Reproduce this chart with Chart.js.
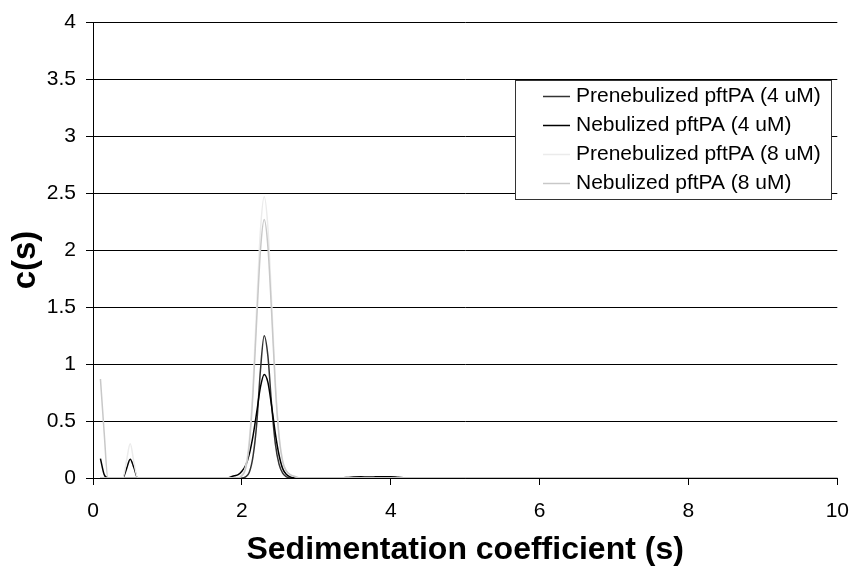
<!DOCTYPE html>
<html><head><meta charset="utf-8">
<script src="https://cdn.jsdelivr.net/npm/chart.js@4.4.1/dist/chart.umd.min.js"></script>
<style>html,body{margin:0;padding:0;background:#fff}#wrap{width:863px;height:569px;position:relative}</style>
</head><body><div id="wrap"><canvas id="c" width="863" height="569"></canvas></div>
<script>
// sedimentation coefficient grid (s)
const sValues = [0.1,0.15,0.2,0.3,0.4,0.45,0.5,0.55,0.6,0.7,
  1.0,1.5,1.8,1.85,1.9,1.95,
  2.0,2.05,2.1,2.15,2.2,2.25,2.3,2.35,2.4,2.45,2.5,2.55,2.6,2.65,2.7,2.75,2.8,
  3.0,3.3,3.4,3.5,3.6,3.7,3.8,3.9,4.0,4.1,4.2,
  4.5,5,6,7,8,9,10];
const preneb4 = [0,0,0,0,0,0,0,0,0,0,
  0,0,0,0,0,0,
  0,0.01,0.05,0.19,0.48,0.95,1.25,1.07,0.64,0.3,0.12,0.04,0.01,0,0,0,0,
  0,0,0,0,0,0,0,0,0,0,0,
  0,0,0,0,0,0,0];
const neb4 = [0.17,0.03,0,0,0,0.08,0.165,0.09,0,0,
  0,0,0,0.01,0.02,0.03,
  0.06,0.11,0.21,0.37,0.58,0.8,0.91,0.84,0.63,0.39,0.2,0.08,0.03,0.01,0,0,0,
  0,0,0.004,0.008,0.01,0.008,0.01,0.012,0.012,0.006,0,
  0,0,0,0,0,0,0];
const preneb8 = [0,0,0,0,0,0.15,0.3,0.14,0,0,
  0,0,0,0,0,0,
  0.03,0.1,0.34,0.82,1.52,2.18,2.47,2.2,1.55,0.85,0.38,0.15,0.06,0.03,0.015,0.005,0,
  0,0,0,0,0,0,0,0,0,0,0,
  0,0,0,0,0,0,0];
const neb8 = [0.87,0.4,0,0,0,0,0,0,0,0,
  0,0,0,0,0,0,
  0.02,0.08,0.3,0.75,1.4,2.0,2.27,2.03,1.45,0.8,0.36,0.14,0.06,0.03,0.015,0.005,0,
  0,0,0,0,0,0,0,0,0,0,0,
  0,0,0,0,0,0,0];
const seriesNames = ['Prenebulized pftPA (4 uM)','Nebulized pftPA (4 uM)','Prenebulized pftPA (8 uM)','Nebulized pftPA (8 uM)'];
const xTitle = 'Sedimentation coefficient (s)';
const yTitle = 'c(s)';

const FONT = '"Liberation Sans", Arial, sans-serif';
const colors = ['#333333','#000000','#ebebeb','#c8c8c8'];
const allSeries = [preneb4, neb4, preneb8, neb8];

const datasets = allSeries.map((ys, i) => ({
  label: seriesNames[i],
  data: sValues.map((x, j) => ({x: x, y: ys[j]})),
  borderColor: colors[i],
  backgroundColor: colors[i],
  borderWidth: 1.5,
  pointRadius: 0,
  fill: false,
  cubicInterpolationMode: 'monotone',
  order: 4 - i
}));

const extras = {
  id: 'extras',
  afterDraw(chart) {
    const ctx = chart.ctx;
    ctx.save();
    // legend box
    const bx = 515.5, by = 80.5, bw = 316, bh = 119;
    ctx.fillStyle = '#fff';
    ctx.fillRect(bx, by, bw, bh);
    ctx.strokeStyle = '#333';
    ctx.lineWidth = 1;
    ctx.strokeRect(bx, by, bw, bh);
    ctx.font = '21px ' + FONT;
    ctx.textBaseline = 'middle';
    ctx.textAlign = 'left';
    seriesNames.forEach((name, i) => {
      const y = 96.5 + i * 29;
      ctx.strokeStyle = colors[i];
      ctx.lineWidth = 1.5;
      ctx.beginPath();
      ctx.moveTo(543, y);
      ctx.lineTo(570, y);
      ctx.stroke();
      ctx.fillStyle = '#000';
      ctx.fillText(name, 576, y);
    });
    // y axis title
    ctx.translate(26, 260);
    ctx.rotate(-Math.PI / 2);
    ctx.font = 'bold 33px ' + FONT;
    ctx.textAlign = 'center';
    ctx.textBaseline = 'middle';
    ctx.fillStyle = '#000';
    ctx.fillText(yTitle, 0, 0);
    ctx.restore();
  }
};

new Chart(document.getElementById('c'), {
  type: 'line',
  data: { datasets: datasets },
  options: {
    responsive: false,
    animation: false,
    layout: { padding: { top: 19, right: 3, left: 0, bottom: 0 } },
    plugins: { legend: { display: false }, tooltip: { enabled: false } },
    scales: {
      x: {
        type: 'linear', min: 0, max: 10,
        ticks: { stepSize: 2, color: '#000', font: { family: FONT, size: 21 }, padding: 14, maxRotation: 0,
                 callback: (v) => String(v) },
        grid: { drawOnChartArea: false, drawTicks: true, tickLength: 7, color: '#000' },
        border: { color: '#000', width: 1 },
        title: { display: true, text: xTitle, color: '#000', font: { family: FONT, size: 32, weight: 'bold' }, padding: { top: 0, bottom: 0 } },
        afterFit(s) { s.height = 91; }
      },
      y: {
        min: 0, max: 4,
        ticks: { stepSize: 0.5, color: '#000', font: { family: FONT, size: 21 }, padding: 10,
                 callback: (v) => String(v) },
        grid: { color: '#000', lineWidth: 1, tickLength: 7, drawTicks: true },
        border: { color: '#000', width: 1 },
        afterFit(s) { s.width = 93; }
      }
    }
  },
  plugins: [extras]
});
</script>
</body></html>
